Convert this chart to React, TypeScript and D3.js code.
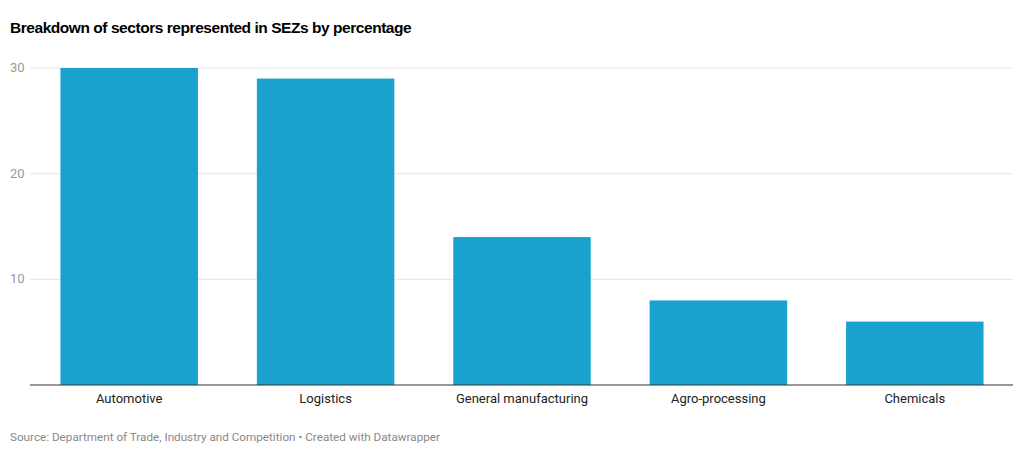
import React from "react";
import * as d3 from "d3";

const categories = ["Automotive", "Logistics", "General manufacturing", "Agro-processing", "Chemicals"];
const values = [30, 29, 14, 8, 6];
const yTicks = [10, 20, 30];

export default function App() {
  const W = 1024, H = 455;
  const x = d3.scaleBand<string>().domain(categories).range([31, 1013]).paddingInner(0.3).paddingOuter(0.15);
  const y = d3.scaleLinear().domain([0, 30]).range([385, 68]);
  return (
    <svg width={W} height={H} style={{ position: "absolute", left: 0, top: 0, background: "#fff" }}>
      <text x={10} y={33} fontFamily="Liberation Sans, Arial, sans-serif" fontWeight="bold" fontSize={15.5} letterSpacing={-0.45} fill="#000">
        Breakdown of sectors represented in SEZs by percentage
      </text>
      {yTicks.map((t) => (
        <g key={t}>
          <line x1={30} x2={1013} y1={y(t)} y2={y(t)} stroke="#e5e5e5" />
          <text x={10} y={y(t) + 4} fontFamily="Roboto, sans-serif" fontSize={13} fill="#999">{t}</text>
        </g>
      ))}
      {categories.map((c, i) => (
        <g key={c}>
          <rect x={x(c)} y={y(values[i])} width={x.bandwidth()} height={y(0) - y(values[i])} fill="#1ba1cd" />
          <text x={(x(c) as number) + x.bandwidth() / 2} y={403} textAnchor="middle" fontFamily="Roboto, sans-serif" fontSize={13} fill="#222">{c}</text>
        </g>
      ))}
      <line x1={30} x2={1013} y1={385} y2={385} stroke="#333" strokeWidth={1.2} />
      <text x={10} y={441} fontFamily="Roboto, sans-serif" fontSize={11.7} fill="#888">
        Source: Department of Trade, Industry and Competition • Created with Datawrapper
      </text>
    </svg>
  );
}
